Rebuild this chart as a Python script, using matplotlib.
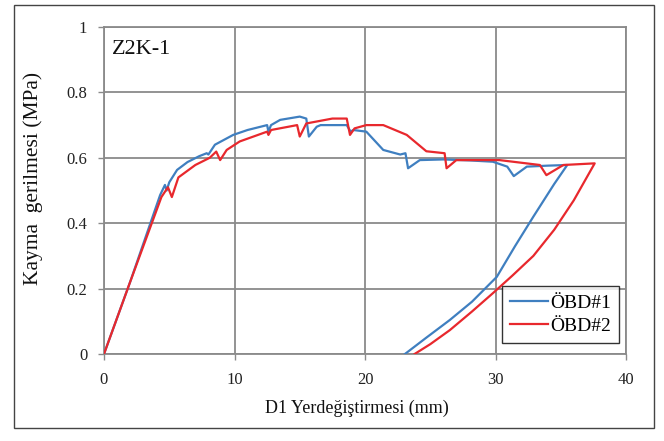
import matplotlib
matplotlib.use("Agg")
import matplotlib.pyplot as plt
from matplotlib.patches import Rectangle

# Data
blue_x = [0, 2, 4.3, 4.67, 4.8, 5.0, 5.6, 6.4, 7.3, 7.87, 8.0, 8.5, 9.9, 11.0, 12.5, 12.6, 12.8,
          13.5, 15.0, 15.5, 15.7, 16.3, 16.6, 18.1, 18.6, 18.9, 19.1, 20.1, 21.4, 22.7, 23.1, 23.3,
          24.2, 26.0, 28.0, 29.8, 30.9, 31.4, 32.4, 34.0, 35.5, 34.5, 32.9, 31.5, 30.1, 28.2, 26.5,
          24.7, 23.06]
blue_y = [0, 0.22, 0.486, 0.517, 0.50, 0.525, 0.563, 0.587, 0.605, 0.614, 0.61, 0.64, 0.67, 0.685,
          0.70, 0.68, 0.70, 0.716, 0.726, 0.72, 0.665, 0.695, 0.70, 0.70, 0.70, 0.68, 0.685, 0.68,
          0.624, 0.61, 0.614, 0.568, 0.593, 0.595, 0.592, 0.588, 0.573, 0.544, 0.573, 0.576, 0.578,
          0.52, 0.42, 0.33, 0.236, 0.16, 0.104, 0.05, 0]

red_x = [0, 2, 4.4, 4.9, 5.2, 5.7, 7.0, 8.1, 8.6, 8.9, 9.4, 10.4, 12.5, 12.6, 12.8, 14.8, 15.0,
         15.5, 17.5, 18.6, 18.85, 19.2, 20.1, 21.4, 23.2, 24.7, 26.1, 26.25, 27.0, 30.3, 33.4, 33.9,
         35.2, 37.6, 36.0, 34.5, 32.9, 31.3, 29.8, 28.2, 26.5, 25.0, 23.8]
red_y = [0, 0.22, 0.48, 0.51, 0.48, 0.54, 0.578, 0.60, 0.619, 0.593, 0.624, 0.65, 0.68, 0.67,
         0.685, 0.70, 0.665, 0.705, 0.72, 0.72, 0.67, 0.69, 0.70, 0.70, 0.67, 0.62, 0.614, 0.568,
         0.593, 0.593, 0.578, 0.547, 0.578, 0.583, 0.47, 0.38, 0.30, 0.24, 0.186, 0.13, 0.073,
         0.03, 0]

series_labels = ["ÖBD#1", "ÖBD#2"]
x_ticks = [0, 10, 20, 30, 40]
y_ticks = [0, 0.2, 0.4, 0.6, 0.8, 1]
y_tick_labels = ["0", "0.2", "0.4", "0.6", "0.8", "1"]
x_label = "D1 Yerdeğiştirmesi (mm)"
y_label = "Kayma  gerilmesi (MPa)"
panel_title = "Z2K-1"

plt.rcParams['font.family'] = ['Liberation Serif', 'DejaVu Serif']

fig = plt.figure(figsize=(6.64, 4.41), dpi=100)
ax = fig.add_axes([104/664, 1-354/441, (626-104)/664, (354-27)/441])

grid_c = "#8a8a8a"
ax.plot(blue_x, blue_y, color="#3f7fc0", lw=1.6, label=series_labels[0], zorder=3)
ax.plot(red_x, red_y, color="#e8282d", lw=1.6, label=series_labels[1], zorder=3)

ax.set_xlim(0, 40)
ax.set_ylim(0, 1)
ax.set_xticks(x_ticks)
ax.set_yticks(y_ticks)
ax.set_yticklabels(y_tick_labels)
ax.grid(True, color=grid_c, lw=1.3)
for s in ax.spines.values():
    s.set_color(grid_c)
    s.set_linewidth(1.3)
ax.tick_params(colors=grid_c, labelcolor="#222222", labelsize=12, length=4, width=1)
ax.tick_params(axis="x", pad=9)
ax.tick_params(axis="y", pad=8)

ax.set_xlabel(x_label, fontsize=13, color="#111111")
ax.xaxis.set_label_coords((357-104)/522, (354-400)/327)
ax.set_ylabel(y_label, fontsize=15.5, color="#111111", va="center")
ax.yaxis.set_label_coords((33-104)/522, (354-178)/327)

ax.text(0.016, 0.96, panel_title, transform=ax.transAxes, fontsize=16, va="top", ha="left",
        color="#111111")

leg = ax.legend(loc="lower right", bbox_to_anchor=((619-104)/522, (354-343)/327), fontsize=14,
                frameon=True, fancybox=False, edgecolor="black", handlelength=2.0,
                handletextpad=0.1, borderpad=0.4, labelspacing=0.3, borderaxespad=0)
leg.get_frame().set_linewidth(1.0)

fig.patches.append(Rectangle((14/664, 1-428/441), (654-14)/664, (428-5)/441,
                             transform=fig.transFigure, fill=False, edgecolor="#444444", lw=1.0))

fig.savefig("out.png", dpi=100)
